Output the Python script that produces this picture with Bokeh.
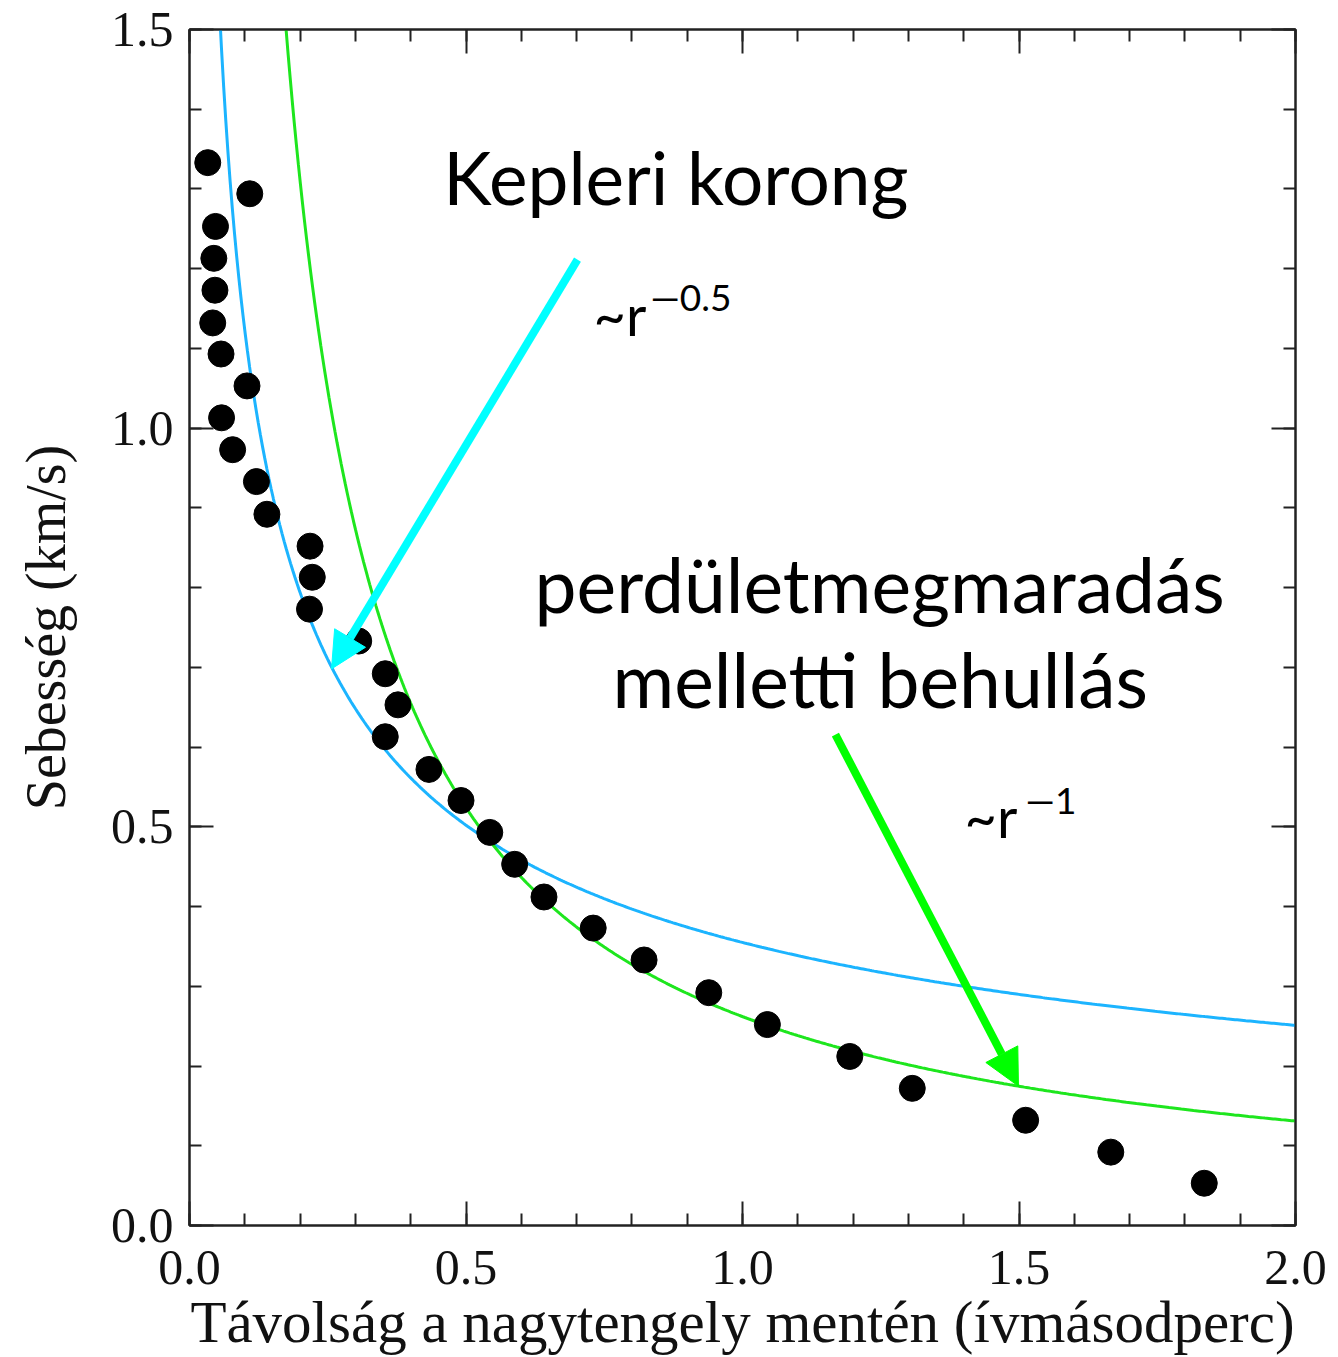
import numpy as np
from bokeh.plotting import figure
from bokeh.models import (Range1d, LinearAxis, SingleIntervalTicker, PrintfTickFormatter,
                          CustomJSTickFormatter, Label, Arrow, NormalHead, ColumnDataSource)
from bokeh.embed import file_html
from bokeh.resources import INLINE

# ---- data ----
distance = [0.033, 0.109, 0.047, 0.044, 0.046, 0.042, 0.057, 0.104, 0.058, 0.078,
            0.121, 0.140, 0.218, 0.222, 0.217, 0.306, 0.354, 0.377, 0.354, 0.433,
            0.491, 0.543, 0.588, 0.641, 0.730, 0.822, 0.939, 1.045, 1.194, 1.307,
            1.512, 1.666, 1.835]
velocity = [1.333, 1.294, 1.253, 1.213, 1.173, 1.132, 1.093, 1.053, 1.013, 0.973,
            0.933, 0.892, 0.852, 0.813, 0.773, 0.733, 0.692, 0.653, 0.613, 0.572,
            0.533, 0.493, 0.453, 0.412, 0.373, 0.333, 0.292, 0.252, 0.212, 0.172,
            0.132, 0.092, 0.053]

# model curves: v = A * r^-0.5 (Keplerian disk), v = B * r^-1 (infall with angular momentum conservation)
kepler_coeff = 0.355
kepler_power = -0.5
infall_coeff = 0.262
infall_power = -1.0

x_title = "Távolság a nagytengely mentén (ívmásodperc)"
y_title = "Sebesség (km/s)"
label_kepler = "Kepleri korong"
label_infall_1 = "perdületmegmaradás"
label_infall_2 = "melletti behullás"
label_r = "~r"
exp_kepler = "—0.5"
exp_infall = "—1"

# ---- figure ----
p = figure(width=1338, height=1357, x_range=Range1d(0, 2.0), y_range=Range1d(0, 1.5),
           output_backend="svg", toolbar_location=None,
           min_border_left=189, min_border_right=43, min_border_top=29, min_border_bottom=132)
p.grid.visible = False
p.background_fill_color = "white"
p.border_fill_color = "white"
p.outline_line_color = "#222222"
p.outline_line_width = 2

AX = "#222222"
SERIF = "Liberation Serif"

def style_axis(ax, labels=True):
    ax.ticker = SingleIntervalTicker(interval=0.5, num_minor_ticks=5)
    ax.major_tick_in = 24
    ax.major_tick_out = 0
    ax.minor_tick_in = 12
    ax.minor_tick_out = 0
    ax.major_tick_line_width = 2
    ax.minor_tick_line_width = 2
    ax.major_tick_line_color = AX
    ax.minor_tick_line_color = AX
    ax.axis_line_width = 2
    ax.axis_line_color = AX
    if labels:
        ax.formatter = PrintfTickFormatter(format="%.1f")
        ax.major_label_text_font = SERIF
        ax.major_label_text_font_size = "50px"
        ax.major_label_text_color = "#111111"
        ax.axis_label_text_font = SERIF
        ax.axis_label_text_font_style = "normal"
        ax.axis_label_text_color = "#111111"
    else:
        ax.formatter = CustomJSTickFormatter(code="return ''")
        ax.major_label_text_font_size = "1px"
        ax.major_label_standoff = 0

xa = p.xaxis[0]
ya = p.yaxis[0]
style_axis(xa)
style_axis(ya)
xa.axis_label = x_title
xa.axis_label_text_font_size = "59px"
xa.major_label_standoff = 25
xa.axis_label_standoff = 2
ya.axis_label = y_title
ya.axis_label_text_font_size = "56px"
ya.major_label_standoff = 16
ya.axis_label_standoff = 31

top = LinearAxis()
style_axis(top, labels=False)
p.add_layout(top, "above")
right = LinearAxis()
style_axis(right, labels=False)
p.add_layout(right, "right")

# model curves
xk = np.linspace(0.05, 2.0, 500)
xi = np.linspace(0.16, 2.0, 500)
p.line(xk, kepler_coeff * xk ** kepler_power, line_color="#1CB4FF", line_width=3)
p.line(xi, infall_coeff * xi ** infall_power, line_color="#1EE61E", line_width=3)

# data points
src = ColumnDataSource(dict(x=distance, y=velocity))
p.scatter("x", "y", source=src, size=26, fill_color="black", line_color="black")

# arrows
p.add_layout(Arrow(end=NormalHead(size=36, fill_color="#00FFFF", line_color="#00FFFF"),
                   x_start=0.7016, y_start=1.2114, x_end=0.2568, y_end=0.6981,
                   line_color="#00FFFF", line_width=8))
p.add_layout(Arrow(end=NormalHead(size=36, fill_color="#00FF00", line_color="#00FF00"),
                   x_start=1.168, y_start=0.6157, x_end=1.499, y_end=0.1748,
                   line_color="#00FF00", line_width=8))

# text labels
def add_label(x, y, text, size, font="Lato", align="left"):
    p.add_layout(Label(x=x, y=y, text=text, text_font=font, text_font_size=size,
                       text_color="black", text_baseline="alphabetic", text_align=align))

add_label(0.459, 1.3151, label_kepler, "73px")
add_label(0.7306, 1.1427, label_r, "56px")
add_label(0.8336, 1.1652, exp_kepler, "37px")
add_label(0.6239, 0.8043, label_infall_1, "75px")
add_label(0.7649, 0.6857, label_infall_2, "75px")
add_label(1.4014, 0.5133, label_r, "56px")
add_label(1.5118, 0.5345, exp_infall, "37px")

open("out.html", "w").write(file_html(p, INLINE))
